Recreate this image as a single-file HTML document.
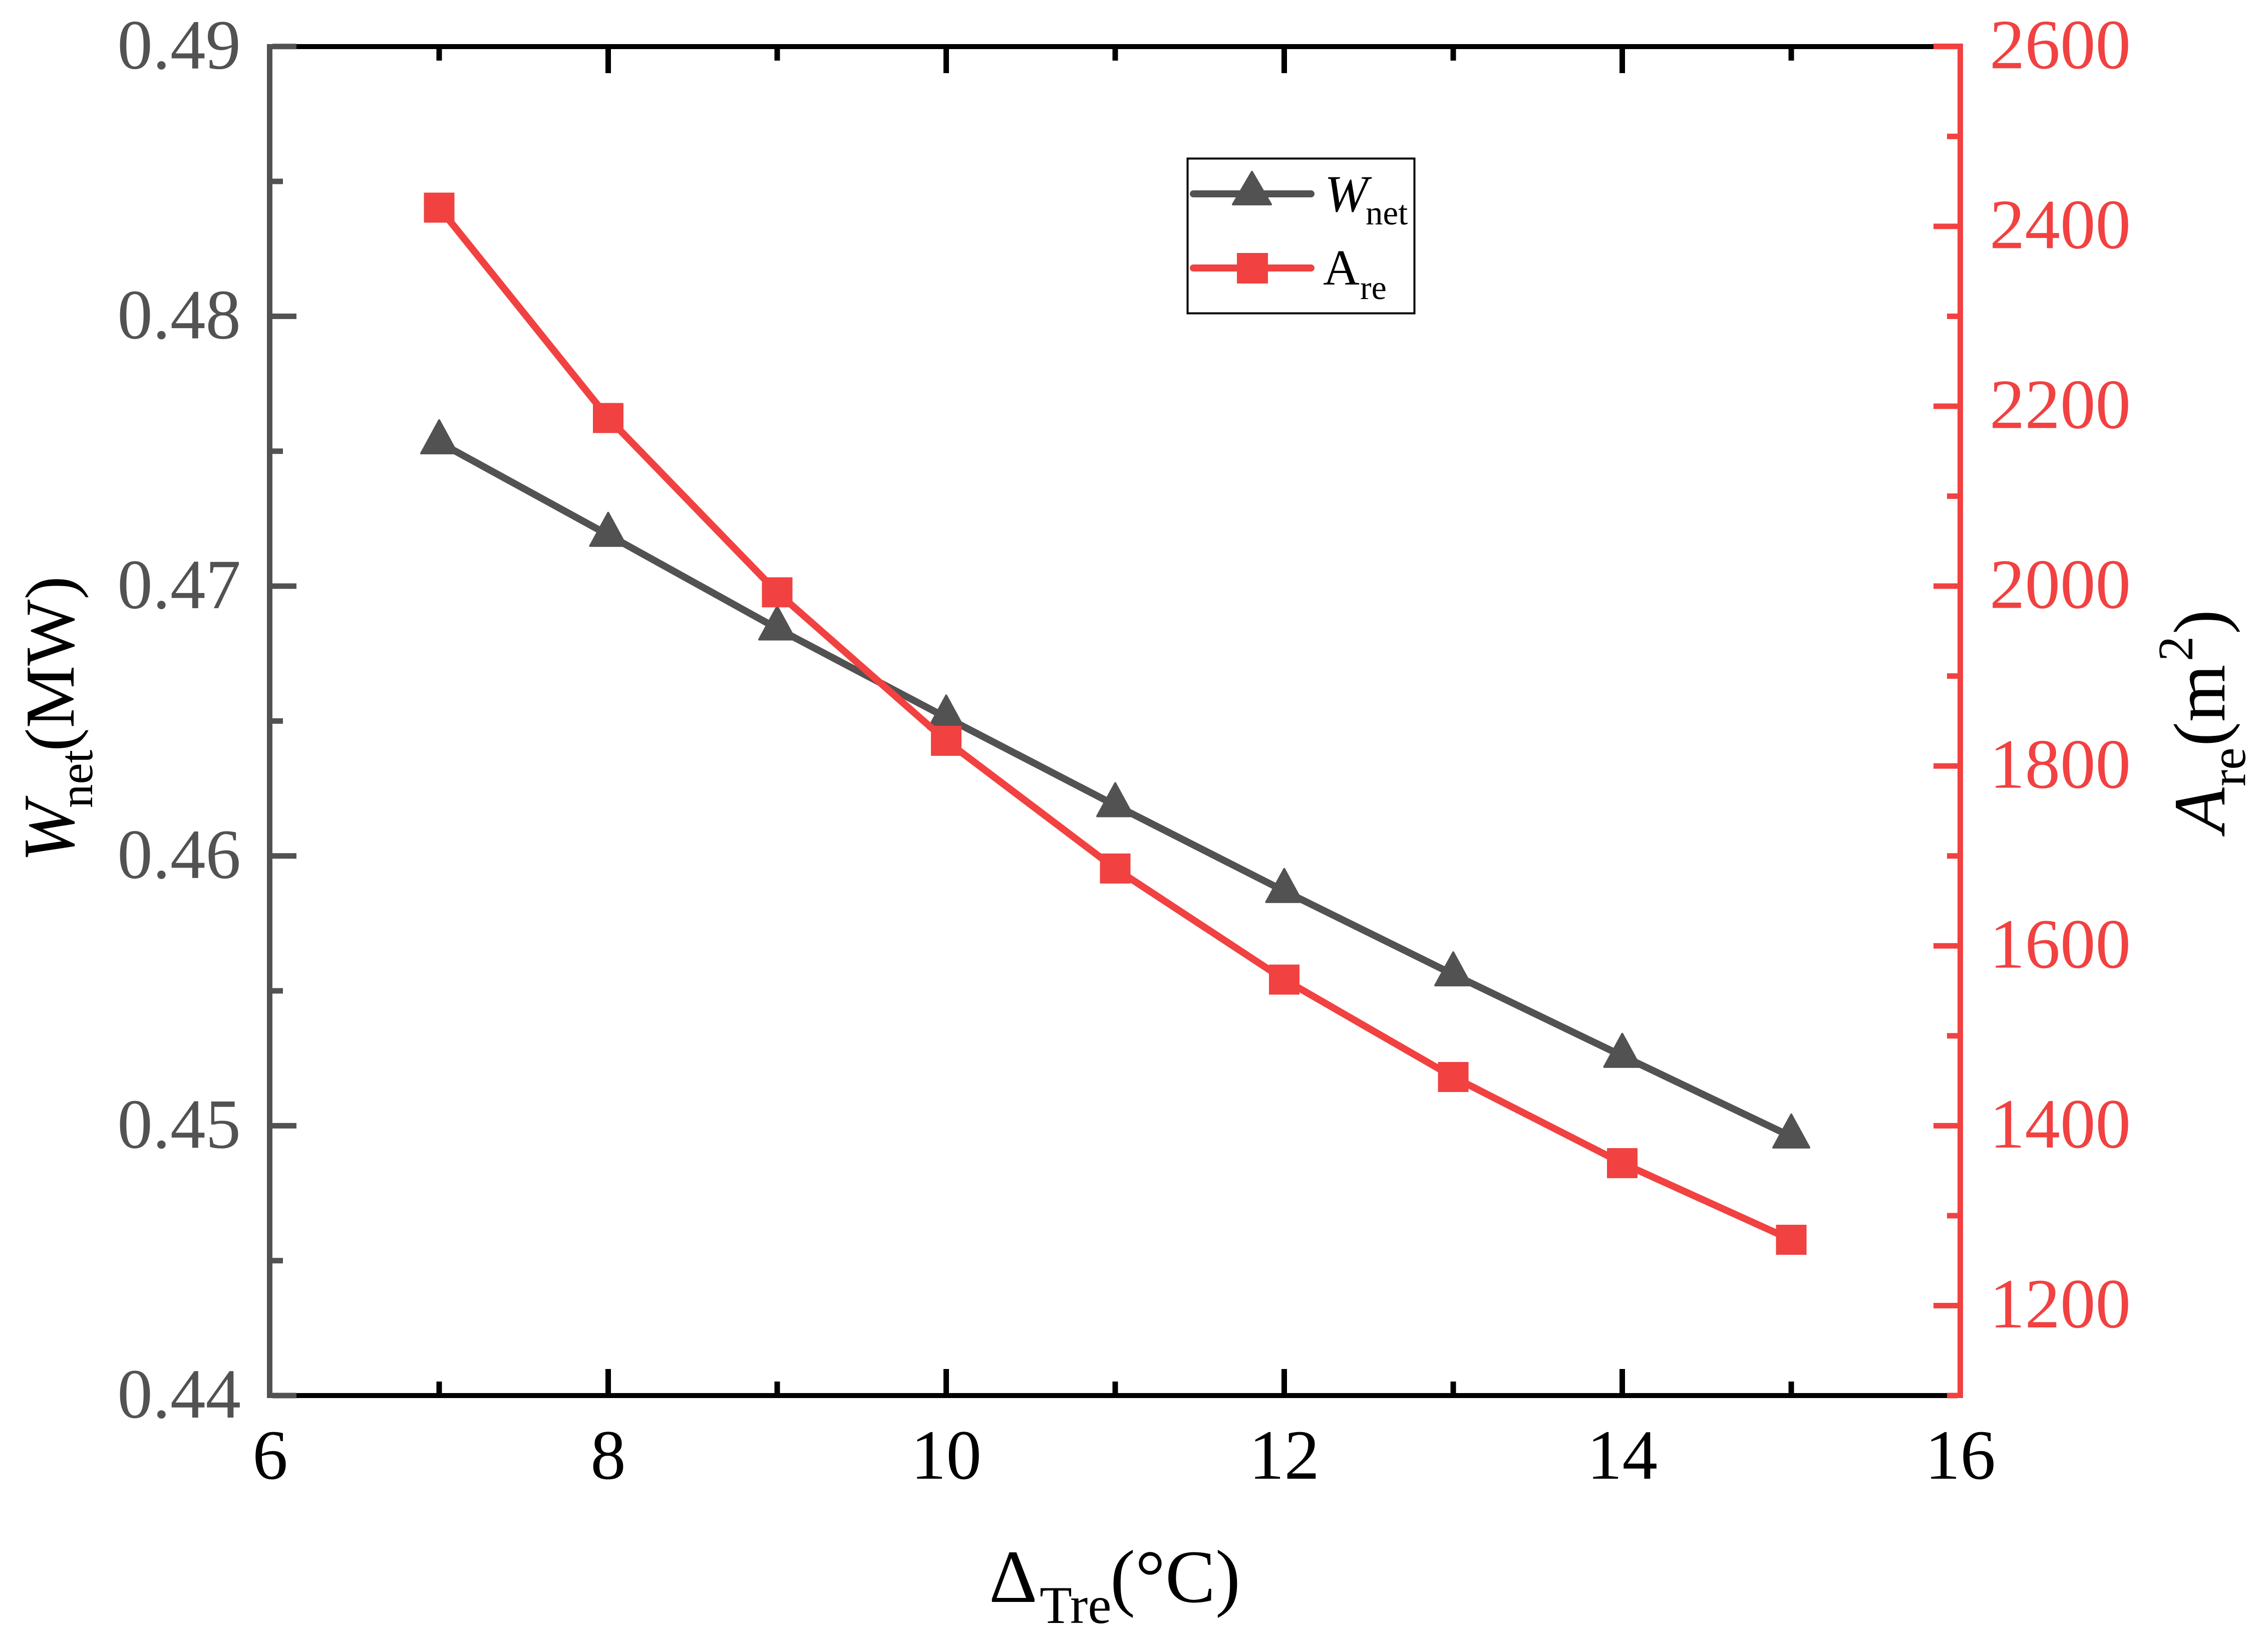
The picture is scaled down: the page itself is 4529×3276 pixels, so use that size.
<!DOCTYPE html>
<html lang="en">
<head>
<meta charset="utf-8">
<title>Wnet and Are versus ΔTre</title>
<style>
html,body{margin:0;padding:0;background:#fff;width:4529px;height:3276px;overflow:hidden}
svg{display:block}
text{font-family:"Liberation Serif","Times New Roman",serif}
</style>
</head>
<body>
<svg id="chart" xmlns="http://www.w3.org/2000/svg" width="4529" height="3276" viewBox="0 0 4529 3276">
  <rect x="0" y="0" width="4529" height="3276" fill="#ffffff"/>
  <g id="ticks"></g>
  <g id="spines"></g>
  <g id="labels"></g>
  <g id="series"></g>

  <g fill="#000">
    <text x="1975" y="3198" font-size="150">Δ</text>
    <text x="2076" y="3240" font-size="106">Tre</text>
    <text x="2217" y="3198" font-size="150">(°C)</text>
  </g>
  <g fill="#000">
    <text transform="translate(147,1721) rotate(-90)" font-size="146" font-style="italic">W</text>
    <text transform="translate(184,1613) rotate(-90)" font-size="95">net</text>
    <text transform="translate(147,1500) rotate(-90)" font-size="140">(MW)</text>
  </g>
  <g fill="#000">
    <text transform="translate(4442,1662) rotate(-90)" font-size="147" font-style="italic">A</text>
    <text transform="translate(4483,1570) rotate(-90)" font-size="100">re</text>
    <text transform="translate(4442,1490) rotate(-90)" font-size="147">(m</text>
    <text transform="translate(4378,1320) rotate(-90)" font-size="100">2</text>
    <text transform="translate(4442,1266) rotate(-90)" font-size="147">)</text>
  </g>

  <g>
    <rect x="2371.5" y="316.5" width="453" height="309" fill="#ffffff" stroke="#000" stroke-width="4"/>
    <g>
      <line x1="2383" y1="387" x2="2618" y2="387" stroke="#525252" stroke-width="14" stroke-linecap="round"/>
      <polygon points="2500,343 2538,408 2462,408" fill="#525252" stroke="#525252" stroke-width="4" stroke-linejoin="round"/>
      <text x="2645" y="422" font-size="104" font-style="italic" fill="#000">W</text>
      <text x="2727" y="448" font-size="69" fill="#000">net</text>
    </g>
    <g>
      <line x1="2383" y1="535" x2="2618" y2="535" stroke="#f14141" stroke-width="14" stroke-linecap="round"/>
      <rect x="2470" y="505" width="62" height="61" fill="#f14141"/>
      <text x="2642" y="568" font-size="101" fill="#000">A</text>
      <text x="2716" y="597" font-size="68" fill="#000">re</text>
    </g>
  </g>
</svg>
<script>
const categories = [7, 8, 9, 10, 11, 12, 13, 14, 15];
const wnetValues = [0.47533, 0.47190, 0.46843, 0.46513, 0.46188, 0.45870, 0.45561, 0.45259, 0.44960];
const areValues = [2420.8, 2186.9, 1993.1, 1828, 1686, 1562.5, 1454.2, 1358.4, 1273.2];
const xMajorTicks = [6, 8, 10, 12, 14, 16];
const xMinorTicks = [7, 9, 11, 13, 15];
const leftMajorTicks = ["0.44", "0.45", "0.46", "0.47", "0.48", "0.49"];
const leftMinorTicks = [0.445, 0.455, 0.465, 0.475, 0.485];
const rightMajorTicks = [1200, 1400, 1600, 1800, 2000, 2200, 2400, 2600];
const rightMinorTicks = [1100, 1300, 1500, 1700, 1900, 2100, 2300, 2500];

const GRAY = '#525252';
const RED = '#f14141';
const NS = 'http://www.w3.org/2000/svg';
const xAxis = v => 539.5 + (v - 6) * 337.5;
const yLeft = v => 2786 - (v - 0.44) * (2786 - 92.8) / 0.05;
const yRight = v => 2786 - (v - 1100) * (2786 - 92.8) / 1500;

function svgEl(tag, parent, attrs) {
  const el = document.createElementNS(NS, tag);
  for (const k in attrs) el.setAttribute(k, attrs[k]);
  parent.appendChild(el);
  return el;
}
const ticksG = document.getElementById('ticks');
const spinesG = document.getElementById('spines');
const labelsG = document.getElementById('labels');
const seriesG = document.getElementById('series');

// x ticks, top and bottom, black
function xTick(v, len, kind) {
  const x = xAxis(v);
  const bottom = svgEl('rect', ticksG, { x: x - 5.5, y: 2781 - len, width: 11, height: len, fill: '#000' });
  
  
  const top = svgEl('rect', ticksG, { x: x - 5.5, y: 98, width: 11, height: len, fill: '#000' });
  
  
}
xMajorTicks.slice(1, -1).forEach(v => xTick(v, 48, 'major'));
xMinorTicks.forEach(v => xTick(v, 23, 'minor'));

// spines
const topSpine = svgEl('rect', spinesG, { x: 592, y: 88, width: 3269, height: 10, fill: '#000' });


const bottomSpine = svgEl('rect', spinesG, { x: 592, y: 2781, width: 3296, height: 10, fill: '#000' });


const leftSpine = svgEl('rect', spinesG, { x: 533, y: 88, width: 11, height: 2703, fill: GRAY });


const rightSpine = svgEl('rect', spinesG, { x: 3909, y: 87, width: 11, height: 2704, fill: RED });



// left ticks
leftMajorTicks.forEach(t => {
  const y = yLeft(parseFloat(t));
  const tick = svgEl('rect', ticksG, { x: 544, y: y - 5.5, width: 48, height: 11, fill: GRAY });
  
  
  const label = svgEl('text', labelsG, { x: 481, y: y + 44, 'font-size': 141, 'text-anchor': 'end', fill: GRAY });
  
  
  label.textContent = t;
});
leftMinorTicks.forEach(v => {
  const tick = svgEl('rect', ticksG, { x: 544, y: yLeft(v) - 5.5, width: 21, height: 11, fill: GRAY });
  
  
});

// right ticks
rightMajorTicks.forEach(v => {
  const y = yRight(v);
  const tick = svgEl('rect', ticksG, { x: 3861, y: y - 5.5, width: 48, height: 11, fill: RED });
  
  
  const label = svgEl('text', labelsG, { x: 3973, y: y + 43.5, 'font-size': 141, fill: RED });
  
  
  label.textContent = String(v);
});
rightMinorTicks.forEach(v => {
  const tick = svgEl('rect', ticksG, { x: 3888, y: yRight(v) - 5.5, width: 21, height: 11, fill: RED });
  
  
});
const rightTopCap = svgEl('rect', ticksG, { x: 3861, y: 87, width: 48, height: 11, fill: RED });



// x labels
xMajorTicks.forEach(v => {
  const label = svgEl('text', labelsG, { x: xAxis(v), y: 2952, 'font-size': 141, 'text-anchor': 'middle', fill: '#000' });
  
  
  label.textContent = String(v);
});

// series: Wnet
const wnetLine = svgEl('polyline', seriesG, {
  points: categories.map((c, i) => xAxis(c) + ',' + yLeft(wnetValues[i])).join(' '),
  fill: 'none', stroke: GRAY, 'stroke-width': 14, 'stroke-linejoin': 'round'
});


categories.forEach((c, i) => {
  const x = xAxis(c), y = yLeft(wnetValues[i]);
  const pts = [[x, y - 44], [x + 36, y + 22], [x - 36, y + 22]].map(p => p.join(',')).join(' ');
  const m = svgEl('polygon', seriesG, { points: pts, fill: GRAY, stroke: GRAY, 'stroke-width': 4, 'stroke-linejoin': 'round' });
  
  
});

// series: Are
const areLine = svgEl('polyline', seriesG, {
  points: categories.map((c, i) => xAxis(c) + ',' + yRight(areValues[i])).join(' '),
  fill: 'none', stroke: RED, 'stroke-width': 14, 'stroke-linejoin': 'round'
});


categories.forEach((c, i) => {
  const m = svgEl('rect', seriesG, { x: xAxis(c) - 30.5, y: yRight(areValues[i]) - 30, width: 61, height: 60, fill: RED });
  
  
});
</script>
</body>
</html>
